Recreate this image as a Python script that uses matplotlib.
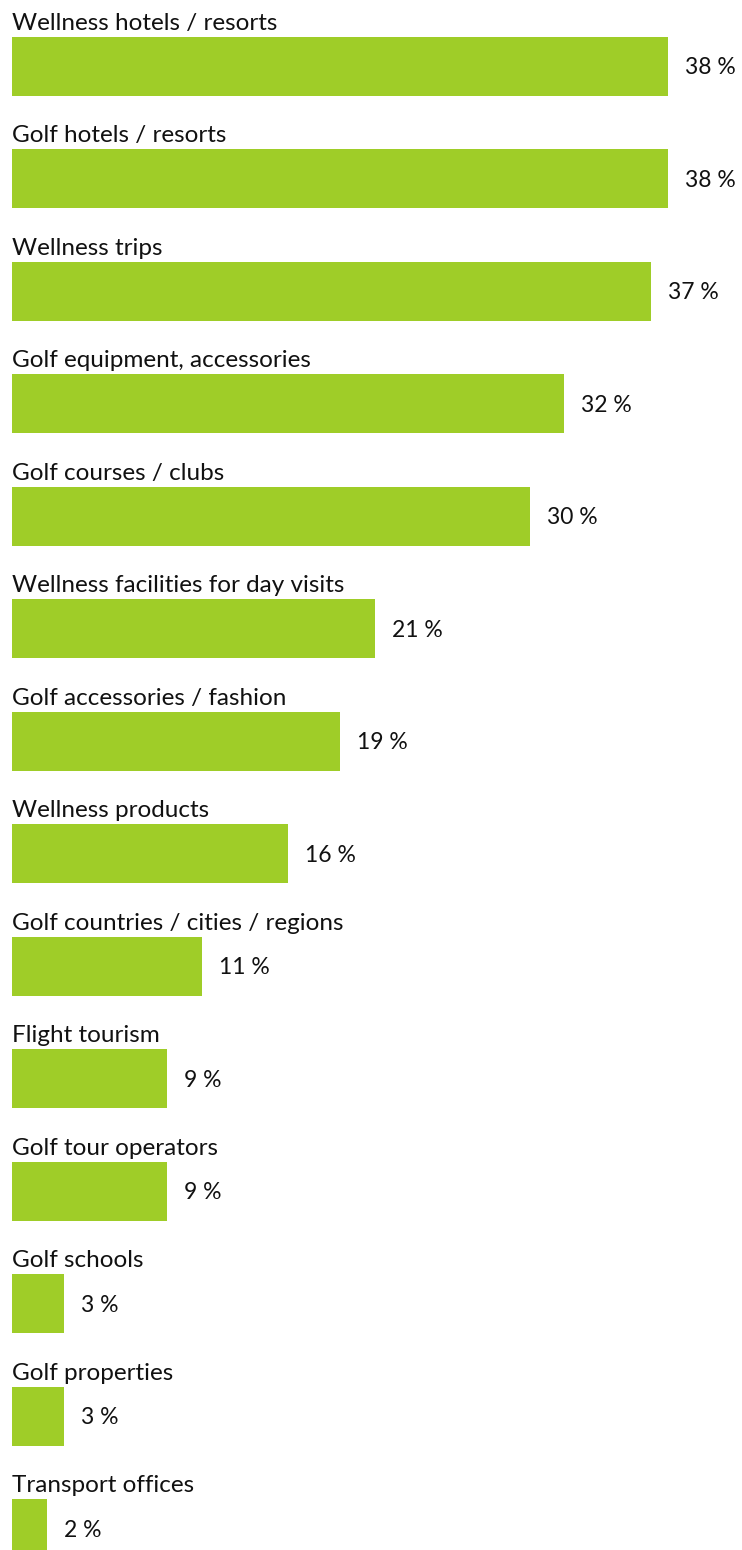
import matplotlib
matplotlib.use("Agg")
import matplotlib.pyplot as plt

categories = [
    "Wellness hotels / resorts",
    "Golf hotels / resorts",
    "Wellness trips",
    "Golf equipment, accessories",
    "Golf courses / clubs",
    "Wellness facilities for day visits",
    "Golf accessories / fashion",
    "Wellness products",
    "Golf countries / cities / regions",
    "Flight tourism",
    "Golf tour operators",
    "Golf schools",
    "Golf properties",
    "Transport offices",
]
values = [38, 38, 37, 32, 30, 21, 19, 16, 11, 9, 9, 3, 3, 2]
value_labels = [f"{v} %" for v in values]

W, H = 742, 1550
DPI = 100
fig = plt.figure(figsize=(W / DPI, H / DPI), dpi=DPI)
left_px = 12
ax = fig.add_axes([left_px / W, 0, 1 - left_px / W, 1])

px_per_unit_x = 656 / 38.0
pitch = 112.5
first_center = 66.2
bar_h_px = 59.0

ax.set_xlim(0, (W - left_px) / px_per_unit_x)
ax.set_ylim((H - first_center) / pitch, -first_center / pitch)
ax.axis("off")

color = "#9FCD28"
font = "Lato"
bh = bar_h_px / pitch
idx = list(range(len(categories)))
ax.barh(idx, values, height=bh, color=color, left=0)

for i, (c, v, lab) in enumerate(zip(categories, values, value_labels)):
    ax.text(0, i - bh / 2 - 7 / pitch, c, ha="left", va="baseline",
            fontsize=17.5, family=font, color="#111111")
    ax.text(v + 17 / px_per_unit_x, i + 1.5 / pitch, lab, ha="left", va="center",
            fontsize=16.5, family=font, color="#111111")

fig.savefig("out.png", dpi=DPI, facecolor="white")
